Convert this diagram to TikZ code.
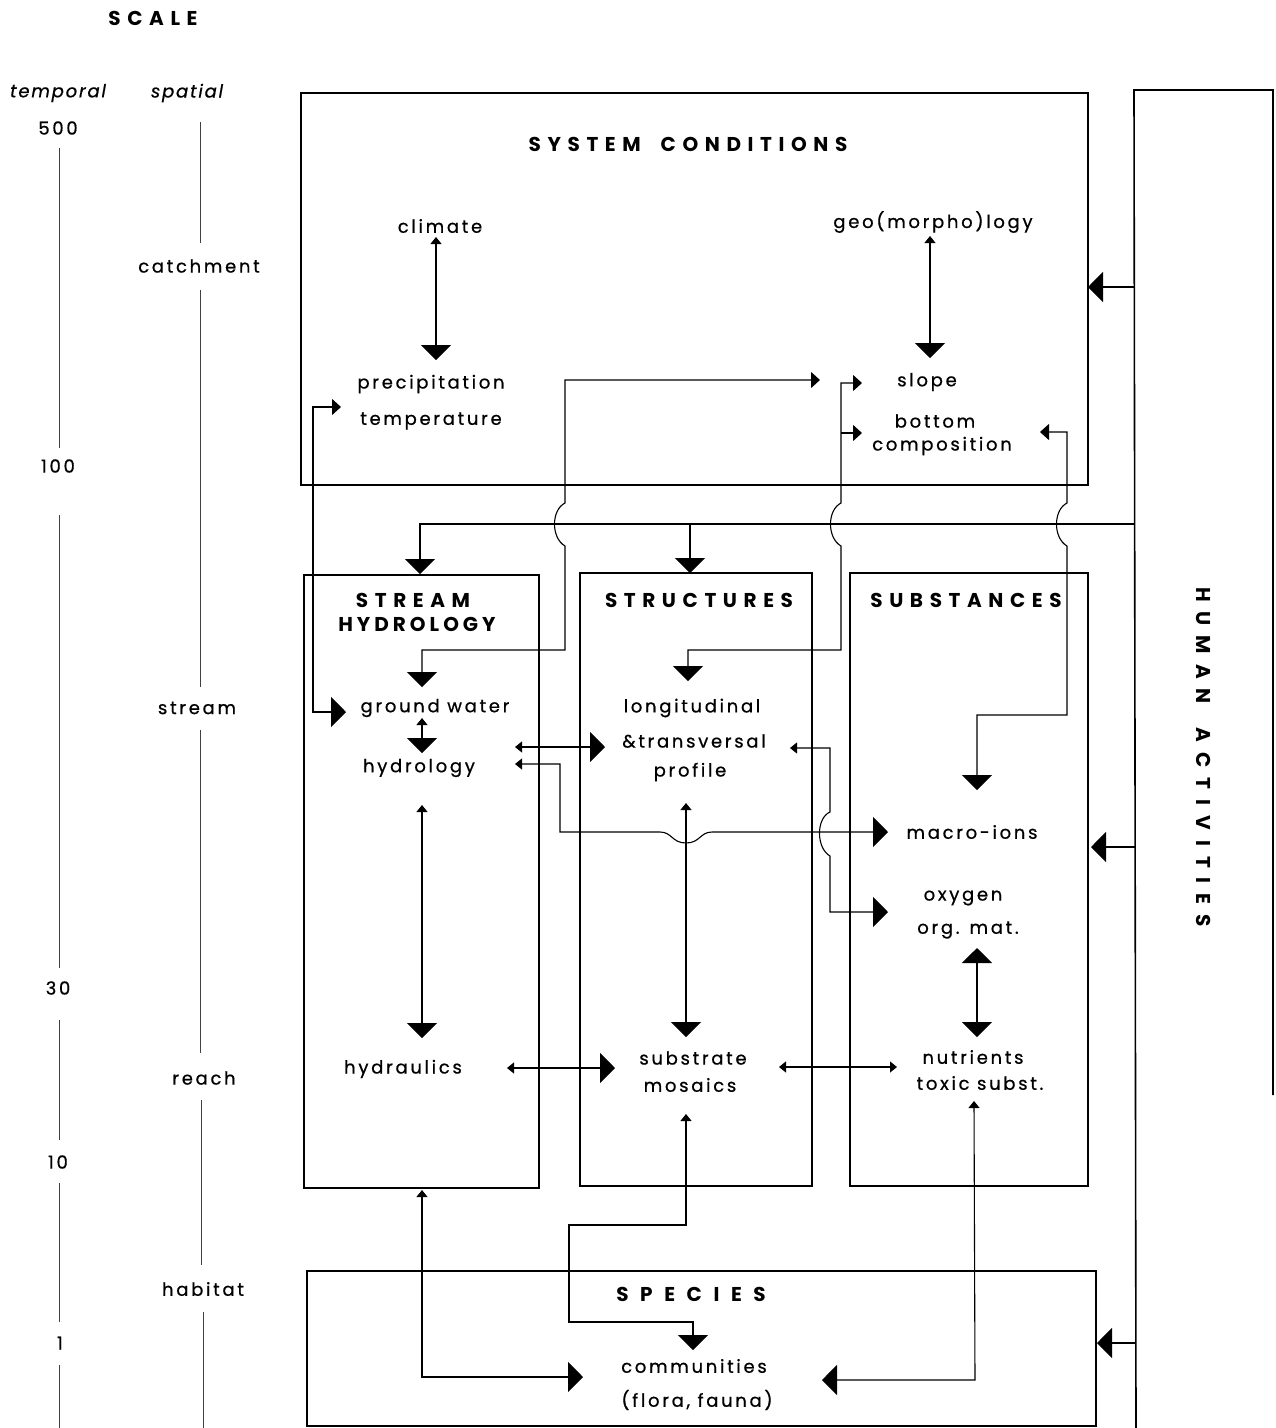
\documentclass[tikz,border=0pt]{standalone}
\usepackage{fontspec}
\setmainfont{Poppins}
\newfontfamily\bodyf[LetterSpace=15,FakeBold=0.7]{Poppins}
\newfontfamily\itf[LetterSpace=10,FakeBold=0.7]{Poppins Italic}
\newfontfamily\capf[LetterSpace=33]{Poppins}
\newfontfamily\capg[LetterSpace=20]{Poppins}
\newfontfamily\humf[LetterSpace=50]{Poppins}
\newfontfamily\specf[LetterSpace=58]{Poppins}
\usetikzlibrary{arrows.meta}
\tikzset{
  tS/.tip={Triangle[width=11pt,length=7pt]},
  tM/.tip={Triangle[width=16pt,length=9pt]},
  tB/.tip={Triangle[width=30pt,length=15pt]},
  txt/.style={font=\bodyf\fontsize{18}{20}\selectfont, inner sep=0pt},
  itl/.style={font=\itf\fontsize{18}{20}\selectfont, inner sep=0pt},
  ttl/.style={font=\capf\bfseries\fontsize{20}{22}\selectfont, inner sep=0pt},
  ttlnarrow/.style={font=\capg\bfseries\fontsize{20}{22}\selectfont, inner sep=0pt},
  hum/.style={font=\humf\bfseries\fontsize{20}{22}\selectfont, inner sep=0pt},
  spc/.style={font=\specf\bfseries\fontsize{20}{22}\selectfont, inner sep=0pt},
  box/.style={draw, line width=1.6pt},
  conn/.style={line width=1.1pt},
  axisline/.style={line width=0.8pt, black!75},
}
\begin{document}
\begin{tikzpicture}[x=1pt,y=-1pt]
\useasboundingbox (0,0) rectangle (1276,1428);
\fill[white] (0,0) rectangle (1276,1428);

% ---------- scale column ----------
\node[ttl] (scale) at (153,18) {SCALE};
\node[itl] (temporal) at (58,93) {temporal};
\node[itl] (spatial) at (187,93) {spatial};
\node[txt] (t500) at (58,128) {500};
\node[txt] (t100) at (58,466) {100};
\node[txt] (t30) at (58,988) {30};
\node[txt] (t10) at (58,1162) {10};
\node[txt] (t1) at (60,1343) {1};
\draw[axisline] (59,148) -- (59,448);
\draw[axisline] (59,515) -- (59,968);
\draw[axisline] (59,1020) -- (59,1140);
\draw[axisline] (59,1183) -- (59,1322);
\draw[axisline] (59,1365) -- (59,1428);
\node[txt] (catch) at (199,266) {catchment};
\node[txt] (streamS) at (197,708) {stream};
\node[txt] (reach) at (204,1078) {reach};
\node[txt] (habitat) at (203,1289) {habitat};
\draw[axisline] (200,122) -- (200,243);
\draw[axisline] (200,290) -- (200,687);
\draw[axisline] (200,730) -- (200,1053);
\draw[axisline] (201,1100) -- (201,1265);
\draw[axisline] (203,1312) -- (203,1428);

% ---------- boxes ----------
\draw[box] (301,93) rectangle (1088,485);
\draw[box] (304,575) rectangle (539,1188);
\draw[box] (580,573) rectangle (812,1186);
\draw[box] (850,573) rectangle (1088,1186);
\draw[box] (307,1271) rectangle (1096,1426);
\draw[box] (1273,1095) -- (1273,90) -- (1134,90) -- (1136,1428);

% ---------- titles ----------
\node[ttl] (sysT) at (688,144) {SYSTEM\hspace{20pt}CONDITIONS};
\node[ttl] (strT1) at (413,600) {STREAM};
\node[ttlnarrow] (strT2) at (417,624) {HYDROLOGY};
\node[ttl] (strucT) at (699,600) {STRUCTURES};
\node[ttl] (subsT) at (966,600) {SUBSTANCES};
\node[spc] (specT) at (691,1294) {SPECIES};
\node[hum, rotate=-90] (human) at (1204,757) {HUMAN\hspace{24pt}ACTIVITIES};

% ---------- texts ----------
\node[txt] (climate) at (440,226) {climate};
\node[txt] (geo) at (933,222) {geo(morpho)logy};
\node[txt] (precip) at (431,384) {precipitation};
\node[txt] (temp) at (431,421) {temperature};
\node[txt] (slope) at (927,382) {slope};
\node[txt] (bottom) at (935,421) {bottom};
\node[txt] (compo) at (942,446) {composition};
\node[txt] (gw) at (435,708) {ground water};
\node[txt] (hydro) at (419,768) {hydrology};
\node[txt] (hydrau) at (403,1069) {hydraulics};
\node[txt] (longi) at (692,708) {longitudinal};
\node[txt] (trans) at (694,741) {\&transversal};
\node[txt] (profile) at (690,772) {profile};
\node[txt] (substr) at (693,1058) {substrate};
\node[txt] (mosaic) at (690,1085) {mosaics};
\node[txt] (macro) at (972,832) {macro-ions};
\node[txt] (oxy) at (963,898) {oxygen};
\node[txt] (orgm) at (968,930) {org. mat.};
\node[txt] (nutr) at (973,1057) {nutrients};
\node[txt] (toxic) at (980,1083) {toxic subst.};
\node[txt] (comm) at (694,1366) {communities};
\node[txt] (flora) at (697,1400) {(flora, fauna)};

% ---------- connector end points ----------
\coordinate (climA) at (436,237);  \coordinate (precA) at (436,360);
\coordinate (geoA) at (930,236);   \coordinate (slopeA) at (930,358);
\coordinate (tempIn) at (341,407); \coordinate (gwL) at (346,712);
\coordinate (slopeL) at (820,380); \coordinate (gwT) at (422,687);
\coordinate (slopeIn) at (862,383); \coordinate (botIn) at (862,433);
\coordinate (longT) at (688,681);
\coordinate (compR) at (1040,432); \coordinate (macroT) at (977,790);
\coordinate (gwB) at (422,718);    \coordinate (hydT) at (422,753);
\coordinate (hydR1) at (515,747);  \coordinate (transL) at (605,747);
\coordinate (hydR2) at (515,764);  \coordinate (macroL) at (888,832);
\coordinate (profR) at (790,748);  \coordinate (oxyL) at (888,912);
\coordinate (hydB) at (422,805);   \coordinate (hydrauT) at (422,1038);
\coordinate (profB) at (686,803);  \coordinate (substrT) at (686,1037);
\coordinate (hydrauR) at (507,1068); \coordinate (substrL) at (615,1068);
\coordinate (substrR) at (779,1067); \coordinate (nutrL) at (897,1067);
\coordinate (orgB) at (977,948);   \coordinate (nutrT) at (977,1037);
\coordinate (streamB) at (422,1190); \coordinate (commL) at (583,1377);
\coordinate (mosB) at (686,1114);  \coordinate (commT) at (693,1350);
\coordinate (toxB) at (974,1101);  \coordinate (commR) at (822,1380);
\coordinate (ha1) at (1134,287);   \coordinate (sysR) at (1088,287);
\coordinate (ha2) at (1134,524);   \coordinate (strucTop) at (690,573);
\coordinate (streamTop) at (420,574);
\coordinate (ha3) at (1135,847);   \coordinate (subsR) at (1091,847);
\coordinate (ha4) at (1136,1343);  \coordinate (specR) at (1097,1343);

% ---------- connectors ----------
\draw[conn, tS-tB] (climA) -- (precA);
\draw[conn, tS-tB] (geoA) -- (slopeA);
\draw[conn, tM-tB] (tempIn) -- (313,407) -- (313,712) -- (gwL);
\draw[conn, tM-tB] (slopeL) -- (565,380) -- (565,503)
   .. controls (551,510) and (551,538) .. (565,546) -- (565,650) -- (422,650) -- (gwT);
\draw[conn, tM-tB] (slopeIn) -- (841,383) -- (841,503)
   .. controls (827,510) and (827,538) .. (841,546) -- (841,650) -- (688,650) -- (longT);
\draw[conn, -tM] (841,433) -- (botIn);
\draw[conn, tM-tB] (compR) -- (1067,432) -- (1067,503)
   .. controls (1053,510) and (1053,538) .. (1067,546) -- (1067,715) -- (977,715) -- (macroT);
\draw[conn, tS-tB] (gwB) -- (hydT);
\draw[conn, tS-tB] (hydR1) -- (transL);
\draw[conn, tS-tB] (hydR2) -- (560,764) -- (560,832) -- (660,832)
   .. controls (672,832) and (672,843) .. (686,843)
   .. controls (700,843) and (700,832) .. (712,832) -- (macroL);
\draw[conn, tS-tB] (profR) -- (830,748) -- (830,812)
   .. controls (816,818) and (816,848) .. (830,856) -- (830,912) -- (oxyL);
\draw[conn, tS-tB] (hydB) -- (hydrauT);
\draw[conn, tS-tB] (profB) -- (substrT);
\draw[conn, tS-tB] (hydrauR) -- (substrL);
\draw[conn, tS-tS] (substrR) -- (nutrL);
\draw[conn, tB-tB] (orgB) -- (nutrT);
\draw[conn, tS-tB] (streamB) -- (422,1377) -- (commL);
\draw[conn, tS-tB] (mosB) -- (686,1225) -- (569,1225) -- (569,1322) -- (693,1322) -- (commT);
\draw[conn, tS-tB] (toxB) -- (975,1380) -- (commR);
% human activities
\draw[conn, line width=1.5pt, -tB] (ha1) -- (sysR);
\draw[conn, line width=1.5pt, -tB] (ha2) -- (420,524) -- (streamTop);
\draw[conn, line width=1.2pt, -tB] (690,524) -- (strucTop);
\draw[conn, line width=1.5pt, -tB] (ha3) -- (subsR);
\draw[conn, line width=1.5pt, -tB] (ha4) -- (specR);
\end{tikzpicture}
\end{document}
